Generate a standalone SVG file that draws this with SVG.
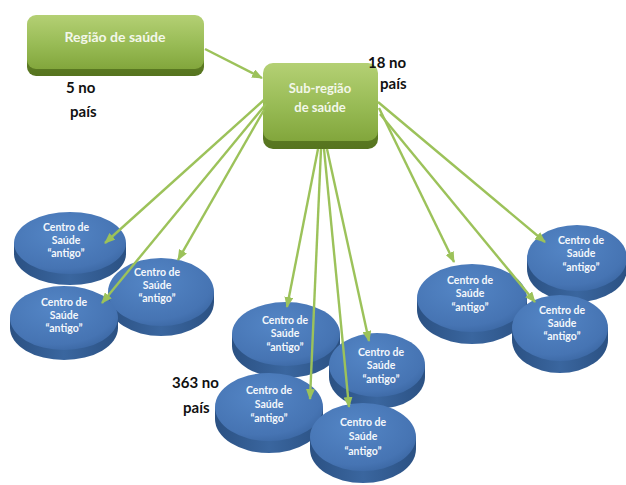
<svg xmlns="http://www.w3.org/2000/svg" width="626" height="485" viewBox="0 0 626 485">
  <defs>
    <linearGradient id="boxFace" x1="0" y1="0" x2="0" y2="1">
      <stop offset="0" stop-color="#b4d074"/>
      <stop offset="0.55" stop-color="#98bb55"/>
      <stop offset="1" stop-color="#82a63c"/>
    </linearGradient>
    <linearGradient id="boxEdge" x1="0" y1="0" x2="0" y2="1">
      <stop offset="0" stop-color="#6f922e"/>
      <stop offset="1" stop-color="#56741f"/>
    </linearGradient>
    <radialGradient id="discFace" cx="0.42" cy="0.35" r="0.7">
      <stop offset="0" stop-color="#5486c6"/>
      <stop offset="0.8" stop-color="#4674b3"/>
      <stop offset="1" stop-color="#3b67a3"/>
    </radialGradient>
    <linearGradient id="discSide" x1="0" y1="0" x2="1" y2="0">
      <stop offset="0" stop-color="#2b5183"/>
      <stop offset="0.5" stop-color="#3a669f"/>
      <stop offset="1" stop-color="#2b5183"/>
    </linearGradient>
    <marker id="arrow" viewBox="0 0 11 9" refX="10" refY="4.5" markerWidth="11" markerHeight="9" markerUnits="userSpaceOnUse" orient="auto">
      <path d="M0,0 L11,4.5 L0,9 Z" fill="#9cc25a"/>
    </marker>
  </defs>
  <style>
    .box-text { font-family: Lato, "Open Sans", "Liberation Sans", sans-serif; font-weight: bold; fill: #f3f7ea; text-anchor: middle; }
    .disc-text { font-family: Lato, "Open Sans", "Liberation Sans", sans-serif; font-weight: bold; font-size: 10.5px; fill: #f4f7fb; text-anchor: middle; }
    .count { font-family: Lato, "Open Sans", "Liberation Sans", sans-serif; font-weight: bold; font-size: 15px; fill: #111; }
    .link { stroke: #9cc25a; stroke-width: 2.4; fill: none; marker-end: url(#arrow); }
    .edge { fill: url(#boxEdge); }
    .face { fill: url(#boxFace); }
    .side { fill: url(#discSide); }
    .top { fill: url(#discFace); }
  </style>

  <rect width="626" height="485" fill="#ffffff"/>

  <!-- Health region -->
  <g id="regiao">
    <rect x="27" y="20" width="177" height="56" rx="9" class="edge"/>
    <rect x="27" y="15" width="177" height="54" rx="9" class="face"/>
    <text x="115" y="42" class="box-text" font-size="14">Região de saúde</text>
  </g>

  <!-- Health sub-region -->
  <g id="sub-regiao">
    <rect x="263" y="70" width="115" height="79" rx="10" class="edge"/>
    <rect x="263" y="63" width="115" height="78" rx="10" class="face"/>
    <text x="320" y="93" class="box-text" font-size="13">Sub-região</text>
    <text x="320" y="112" class="box-text" font-size="13">de saúde</text>
  </g>

  <!-- Count labels -->
  <g id="contagens">
    <text x="66" y="93" class="count">5 no</text>
    <text x="70" y="117" class="count">país</text>
    <text x="368" y="68" class="count">18 no</text>
    <text x="380" y="89" class="count">país</text>
    <text x="172" y="388" class="count" font-size="14">363 no</text>
    <text x="183" y="413" class="count" font-size="14">país</text>
  </g>

  <!-- Left cluster of health centres -->
  <g id="centro-a">
    <path d="M14,243 L14,254 A56,31 0 0 0 126,254 L126,243 Z" class="side"/>
    <ellipse cx="70" cy="243" rx="56" ry="31" class="top"/>
    <text x="66" y="231" class="disc-text">Centro de</text>
    <text x="66" y="244" class="disc-text">Saúde</text>
    <text x="66" y="257" class="disc-text">“antigo”</text>
  </g>
  <g id="centro-b">
    <path d="M108,292 L108,302 A53,34 0 0 0 214,302 L214,292 Z" class="side"/>
    <ellipse cx="161" cy="292" rx="53" ry="34" class="top"/>
    <text x="157" y="276" class="disc-text">Centro de</text>
    <text x="157" y="289" class="disc-text">Saúde</text>
    <text x="157" y="302" class="disc-text">“antigo”</text>
  </g>
  <g id="centro-c">
    <path d="M10,318 L10,328 A54,32 0 0 0 118,328 L118,318 Z" class="side"/>
    <ellipse cx="64" cy="318" rx="54" ry="32" class="top"/>
    <text x="64" y="306" class="disc-text">Centro de</text>
    <text x="64" y="319" class="disc-text">Saúde</text>
    <text x="64" y="332" class="disc-text">“antigo”</text>
  </g>

  <!-- Middle cluster of health centres -->
  <g id="centro-d">
    <path d="M232,334 L232,346 A54,32 0 0 0 340,346 L340,334 Z" class="side"/>
    <ellipse cx="286" cy="334" rx="54" ry="32" class="top"/>
    <text x="285" y="324" class="disc-text">Centro de</text>
    <text x="285" y="337" class="disc-text">Saúde</text>
    <text x="285" y="351" class="disc-text">“antigo”</text>
  </g>
  <g id="centro-e">
    <path d="M329,365 L329,377 A48,32 0 0 0 425,377 L425,365 Z" class="side"/>
    <ellipse cx="377" cy="365" rx="48" ry="32" class="top"/>
    <text x="381" y="356" class="disc-text">Centro de</text>
    <text x="381" y="369" class="disc-text">Saúde</text>
    <text x="381" y="383" class="disc-text">“antigo”</text>
  </g>
  <g id="centro-f">
    <path d="M215,407 L215,419 A54,34 0 0 0 323,419 L323,407 Z" class="side"/>
    <ellipse cx="269" cy="407" rx="54" ry="34" class="top"/>
    <text x="269" y="394" class="disc-text">Centro de</text>
    <text x="269" y="408" class="disc-text">Saúde</text>
    <text x="269" y="422" class="disc-text">“antigo”</text>
  </g>
  <g id="centro-g">
    <path d="M310,437 L310,449 A53,34 0 0 0 416,449 L416,437 Z" class="side"/>
    <ellipse cx="363" cy="437" rx="53" ry="34" class="top"/>
    <text x="363" y="426" class="disc-text">Centro de</text>
    <text x="363" y="440" class="disc-text">Saúde</text>
    <text x="363" y="455" class="disc-text">“antigo”</text>
  </g>

  <!-- Right cluster of health centres -->
  <g id="centro-h">
    <path d="M527,258 L527,269 A50,33 0 0 0 627,269 L627,258 Z" class="side"/>
    <ellipse cx="577" cy="258" rx="50" ry="33" class="top"/>
    <text x="581" y="244" class="disc-text">Centro de</text>
    <text x="581" y="257" class="disc-text">Saúde</text>
    <text x="581" y="271" class="disc-text">“antigo”</text>
  </g>
  <g id="centro-i">
    <path d="M417,298 L417,310 A55,34 0 0 0 527,310 L527,298 Z" class="side"/>
    <ellipse cx="472" cy="298" rx="55" ry="34" class="top"/>
    <text x="470" y="284" class="disc-text">Centro de</text>
    <text x="470" y="297" class="disc-text">Saúde</text>
    <text x="470" y="311" class="disc-text">“antigo”</text>
  </g>
  <g id="centro-j">
    <path d="M512,328 L512,340 A48,33 0 0 0 608,340 L608,328 Z" class="side"/>
    <ellipse cx="560" cy="328" rx="48" ry="33" class="top"/>
    <text x="562" y="314" class="disc-text">Centro de</text>
    <text x="562" y="327" class="disc-text">Saúde</text>
    <text x="562" y="340" class="disc-text">“antigo”</text>
  </g>

  <!-- Connectors -->
  <g id="conectores">
    <line x1="205" y1="49" x2="262" y2="78" class="link"/>
    <line x1="265" y1="99" x2="105" y2="243" class="link"/>
    <line x1="266" y1="104" x2="102" y2="303" class="link"/>
    <line x1="264" y1="110" x2="178" y2="260" class="link"/>
    <line x1="318" y1="149" x2="287" y2="307" class="link"/>
    <line x1="321" y1="149" x2="310" y2="399" class="link"/>
    <line x1="324" y1="149" x2="349" y2="407" class="link"/>
    <line x1="327" y1="149" x2="369" y2="341" class="link"/>
    <line x1="378" y1="102" x2="545" y2="242" class="link"/>
    <line x1="379" y1="108" x2="454" y2="262" class="link"/>
    <line x1="380" y1="114" x2="535" y2="302" class="link"/>
  </g>
</svg>
